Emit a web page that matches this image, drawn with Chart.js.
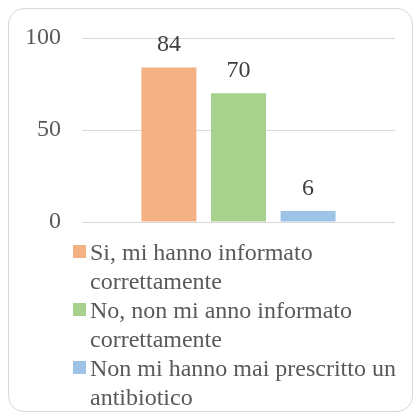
<!DOCTYPE html>
<html>
<head>
<meta charset="utf-8">
<script src="https://cdn.jsdelivr.net/npm/chart.js@4.4.0/dist/chart.umd.min.js"></script>
<style>
  html, body { margin: 0; padding: 0; background: #fff; }
  #wrap { position: relative; width: 419px; height: 419px; overflow: hidden; }
  #frame {
    position: absolute; left: 8px; top: 8px; width: 405px; height: 404px;
    border: 1px solid #d9d9d9; border-radius: 16px; box-sizing: border-box;
  }
  #chart { position: absolute; left: 0; top: 0; }
  #legend {
    position: absolute; left: 73px; top: 238px; width: 336px;
    font-family: "Liberation Serif", "Times New Roman", serif;
    font-size: 24px; line-height: 29px; color: #595959;
  }
  .item { position: relative; padding-left: 17px; }
  .box { position: absolute; left: 0; top: 7px; width: 13px; height: 13px; }
</style>
</head>
<body>
<div id="wrap">
  <div id="frame"></div>
  <canvas id="chart" width="419" height="240"></canvas>
  <div id="legend"></div>
</div>
<script>
// Data
const seriesNames = [
  'Si, mi hanno informato correttamente',
  'No, non mi anno informato correttamente',
  'Non mi hanno mai prescritto un antibiotico'
];
const seriesValues = [84, 70, 6];
const seriesColors = ['#f4b183', '#a9d18e', '#9dc3e6'];
const yTicks = [0, 50, 100];

const serif = '"Liberation Serif", "Times New Roman", serif';

// Draws the value above each bar
const valueLabels = {
  id: 'valueLabels',
  afterDatasetsDraw(chart) {
    const ctx = chart.ctx;
    ctx.save();
    ctx.font = '24px ' + serif;
    ctx.fillStyle = '#404040';
    ctx.textAlign = 'center';
    ctx.textBaseline = 'alphabetic';
    chart.data.datasets.forEach((ds, i) => {
      chart.getDatasetMeta(i).data.forEach((bar, j) => {
        ctx.fillText(ds.data[j], bar.x, bar.y - 16);
      });
    });
    ctx.restore();
  }
};

new Chart(document.getElementById('chart'), {
  type: 'bar',
  data: {
    labels: [''],
    datasets: seriesNames.map((name, i) => ({
      label: name,
      data: [seriesValues[i]],
      backgroundColor: seriesColors[i],
      categoryPercentage: 0.667,
      barPercentage: 0.79
    }))
  },
  options: {
    responsive: false,
    animation: false,
    layout: { padding: { top: 38, right: 24, bottom: 18, left: 0 } },
    plugins: { legend: { display: false }, tooltip: { enabled: false } },
    scales: {
      x: { display: false },
      y: {
        min: 0,
        max: 100,
        afterBuildTicks: s => { s.ticks = yTicks.map(v => ({ value: v })); },
        afterFit: s => { s.width = 82; s.paddingTop = 0; s.paddingBottom = 0; },
        border: { display: false },
        grid: { color: '#d9d9d9', lineWidth: 1, drawTicks: false },
        ticks: { padding: 21, color: '#595959', font: { family: serif, size: 24 } }
      }
    }
  },
  plugins: [valueLabels]
});

// Legend
const legend = document.getElementById('legend');
seriesNames.forEach((name, i) => {
  const item = document.createElement('div');
  item.className = 'item';
  const box = document.createElement('span');
  box.className = 'box';
  box.style.background = seriesColors[i];
  item.appendChild(box);
  item.appendChild(document.createTextNode(name));
  legend.appendChild(item);
});
</script>
</body>
</html>
